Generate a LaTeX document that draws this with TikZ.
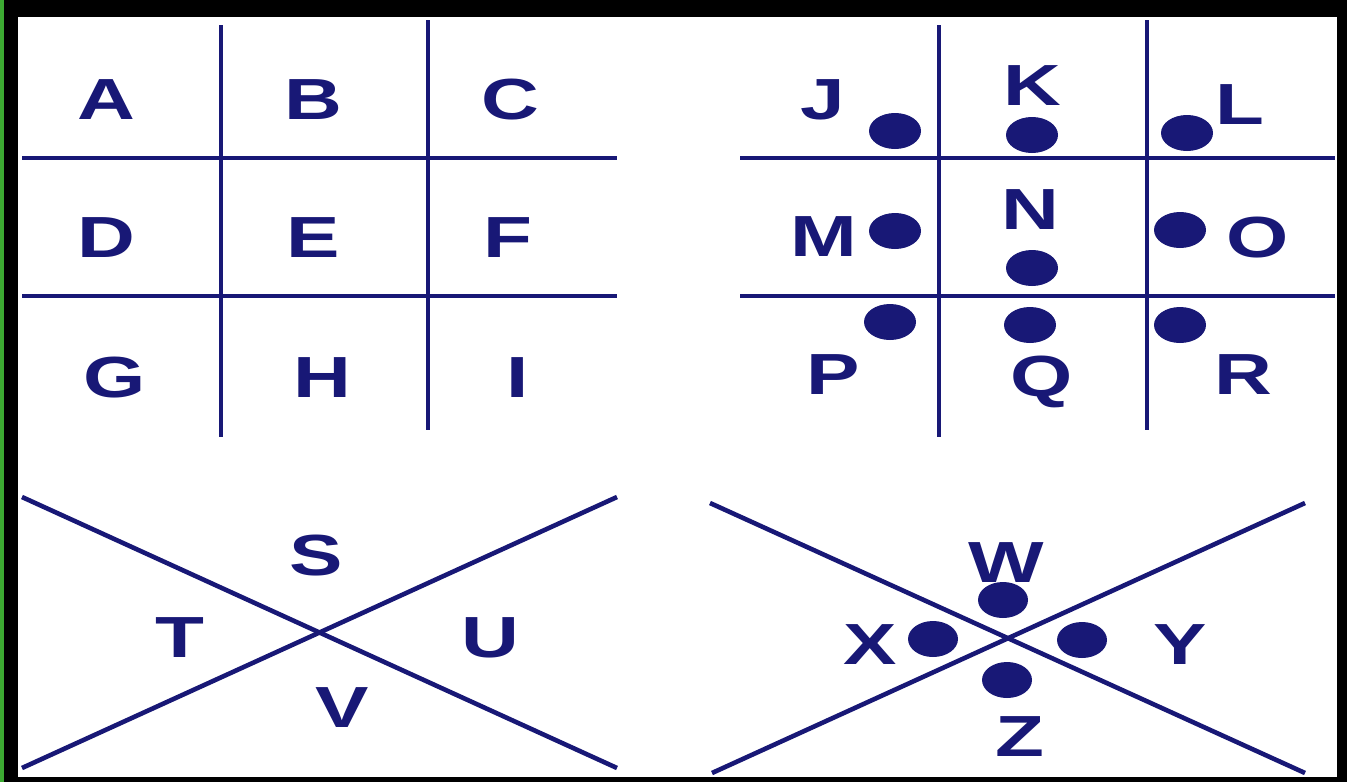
\documentclass[tikz,border=0pt]{standalone}
\usepackage{fontspec}
\setmainfont{Liberation Sans}
\definecolor{ink}{RGB}{24,24,118}
\definecolor{edge}{RGB}{60,170,50}
\begin{document}
\begin{tikzpicture}[x=0.5pt,y=-0.5pt,
  rule/.style={draw=ink,line width=2.3pt},
  letter/.style={text=ink,inner sep=0pt,font=\fontsize{29}{30}\selectfont\bfseries,xscale=1.38,transform shape},
  dotmark/.style={fill=ink,draw=none,ellipse,minimum width=26pt,minimum height=18pt,inner sep=0pt,shape=ellipse}]
\useasboundingbox (0,0) rectangle (1347,782);
\fill[black] (0,0) rectangle (1347,782);
\fill[edge] (0,0) rectangle (4,782);
\fill[white] (18,17) rectangle (1337,777);
% top-left grid
\coordinate (a1) at (221,25); \coordinate (a2) at (221,437);
\coordinate (b1) at (428,20); \coordinate (b2) at (428,430);
\coordinate (c1) at (22,158); \coordinate (c2) at (617,158);
\coordinate (d1) at (22,296); \coordinate (d2) at (617,296);
\draw[rule] (a1) -- (a2); \draw[rule] (b1) -- (b2);
\draw[rule] (c1) -- (c2); \draw[rule] (d1) -- (d2);
\node[letter] (A) at (106,100) {A};
\node[letter] (B) at (313,100) {B};
\node[letter] (C) at (510,100) {C};
\node[letter] (D) at (106,238) {D};
\node[letter] (E) at (313,238) {E};
\node[letter] (F) at (508,238) {F};
\node[letter] (G) at (115,378) {G};
\node[letter] (H) at (322,378) {H};
\node[letter] (I) at (518,378) {I};
% top-right grid
\coordinate (e1) at (939,25); \coordinate (e2) at (939,437);
\coordinate (f1) at (1147,20); \coordinate (f2) at (1147,430);
\coordinate (g1) at (740,158); \coordinate (g2) at (1335,158);
\coordinate (h1) at (740,296); \coordinate (h2) at (1335,296);
\draw[rule] (e1) -- (e2); \draw[rule] (f1) -- (f2);
\draw[rule] (g1) -- (g2); \draw[rule] (h1) -- (h2);
\node[letter] (J) at (823,100) {J};
\node[letter] (K) at (1032,86) {K};
\node[letter] (L) at (1240,105) {L};
\node[letter] (M) at (824,237) {M};
\node[letter] (N) at (1030,210) {N};
\node[letter] (O) at (1258,238) {O};
\node[letter] (P) at (833,375) {P};
\node[letter] (Q) at (1042,382) {Q};
\node[letter] (R) at (1243,375) {R};
\fill[ink] (895,131) ellipse (26 and 18);
\fill[ink] (1032,135) ellipse (26 and 18);
\fill[ink] (1187,133) ellipse (26 and 18);
\fill[ink] (895,231) ellipse (26 and 18);
\fill[ink] (1032,268) ellipse (26 and 18);
\fill[ink] (1180,230) ellipse (26 and 18);
\fill[ink] (890,322) ellipse (26 and 18);
\fill[ink] (1030,325) ellipse (26 and 18);
\fill[ink] (1180,325) ellipse (26 and 18);
% bottom-left X
\coordinate (i1) at (22,497); \coordinate (i2) at (617,768);
\coordinate (j1) at (22,768); \coordinate (j2) at (617,497);
\draw[rule] (i1) -- (i2); \draw[rule] (j1) -- (j2);
\node[letter] (S) at (316,556) {S};
\node[letter] (T) at (180,638) {T};
\node[letter] (U) at (490,638) {U};
\node[letter] (V) at (342,708) {V};
% bottom-right X
\coordinate (k1) at (710,503); \coordinate (k2) at (1305,773);
\coordinate (l1) at (712,773); \coordinate (l2) at (1305,503);
\draw[rule] (k1) -- (k2); \draw[rule] (l1) -- (l2);
\node[letter] (W) at (1006,563) {W};
\node[letter] (X) at (870,645) {X};
\node[letter] (Y) at (1180,645) {Y};
\node[letter] (Z) at (1020,737) {Z};
\fill[ink] (1003,600) ellipse (25 and 18);
\fill[ink] (933,639) ellipse (25 and 18);
\fill[ink] (1082,640) ellipse (25 and 18);
\fill[ink] (1007,680) ellipse (25 and 18);
\end{tikzpicture}
\end{document}
